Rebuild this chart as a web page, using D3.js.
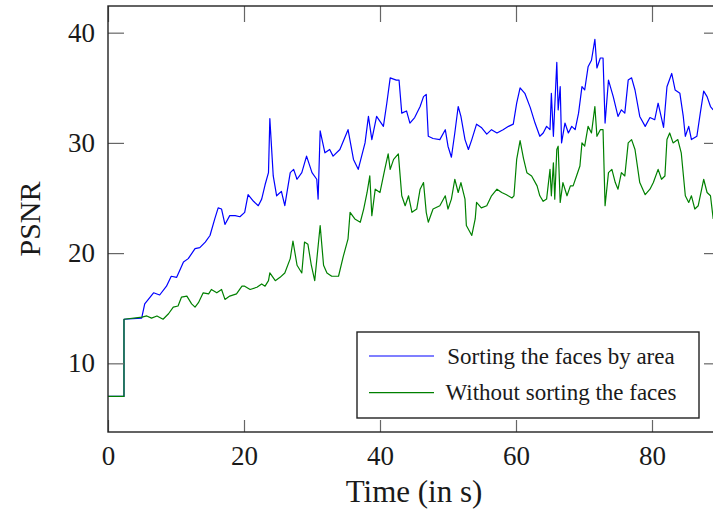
<!DOCTYPE html>
<html>
<head>
<meta charset="utf-8">
<script src="https://cdn.jsdelivr.net/npm/d3@7"></script>
<style>
  body { margin: 0; background: #fff; }
  svg { display: block; font-family: "Liberation Serif", "DejaVu Serif", serif; }
</style>
</head>
<body>
<svg width="713" height="514"></svg>
<script>
// dati nolasīti no attēla
const sortedTime = [0, 2.35, 2.35, 4.95, 5.4, 6.7, 7.6, 8.6, 9.3, 10.1, 11.1, 11.8, 12.8, 13.5, 14.3, 15.0, 15.7, 16.2, 16.7, 17.2, 17.9, 18.7, 19.4, 20.1, 20.6, 21.4, 22.1, 22.6, 23.1, 23.6, 23.8, 24.3, 24.8, 25.5, 26.0, 26.8, 27.3, 27.8, 28.5, 29.2, 30.0, 30.7, 30.9, 31.2, 31.9, 32.6, 33.1, 34.1, 35.3, 36.1, 36.8, 37.8, 38.3, 38.8, 39.5, 40.5, 41.0, 41.5, 42.4, 42.8, 43.2, 43.9, 44.4, 45.1, 45.9, 46.4, 46.8, 47.1, 47.8, 48.8, 49.6, 50.0, 50.5, 51.0, 51.5, 51.9, 52.5, 53.0, 53.5, 54.2, 54.9, 55.7, 56.4, 57.2, 58.1, 58.9, 59.6, 60.1, 60.6, 61.3, 62.1, 62.8, 63.5, 64.0, 64.5, 65.0, 65.2, 65.5, 65.7, 66.0, 66.2, 66.5, 66.7, 67.2, 67.7, 68.2, 68.7, 69.2, 69.7, 70.1, 70.6, 71.1, 71.6, 71.9, 72.4, 72.8, 73.1, 73.6, 74.3, 75.0, 75.5, 76.0, 76.5, 77.0, 77.5, 78.2, 79.0, 79.7, 80.4, 80.9, 81.7, 82.2, 82.9, 83.4, 84.1, 84.6, 84.9, 85.4, 85.8, 86.6, 87.1, 87.6, 88.1, 88.6, 89.0];
const sortedPsnr = [7, 7, 14, 14.1, 15.4, 16.4, 16.2, 17.0, 17.9, 17.8, 19.2, 19.5, 20.4, 20.5, 21.0, 21.6, 23.1, 24.1, 24.0, 22.6, 23.4, 23.4, 23.3, 23.7, 25.3, 24.7, 24.3, 24.9, 26.2, 27.3, 32.2, 27.0, 25.2, 25.6, 24.3, 27.3, 27.6, 26.7, 27.3, 28.8, 27.3, 26.7, 24.9, 31.1, 29.1, 29.4, 28.8, 29.4, 31.2, 28.5, 27.6, 30.0, 32.4, 30.3, 32.4, 31.5, 33.6, 35.9, 35.7, 35.7, 32.7, 32.9, 31.8, 32.3, 33.3, 34.2, 34.4, 30.6, 30.4, 30.3, 31.2, 29.7, 28.7, 30.9, 33.3, 32.4, 30.3, 29.4, 30.3, 31.7, 31.4, 30.8, 31.2, 30.9, 31.2, 31.5, 31.7, 33.6, 35.0, 34.5, 33.2, 31.8, 30.6, 30.9, 31.5, 31.2, 34.5, 30.6, 33.3, 37.3, 33.0, 35.1, 30.0, 31.8, 30.9, 31.5, 31.2, 32.7, 35.1, 34.8, 36.9, 37.5, 39.4, 36.8, 37.7, 37.7, 31.8, 35.7, 34.2, 32.4, 33.0, 32.7, 35.7, 35.9, 34.8, 32.4, 31.5, 32.3, 32.1, 33.6, 31.4, 35.1, 36.3, 34.8, 34.5, 32.4, 30.6, 31.5, 30.3, 30.6, 32.7, 34.7, 34.2, 33.3, 33.0];

const unsortedTime = [0, 2.35, 2.35, 5.0, 5.7, 6.4, 7.2, 8.1, 8.9, 9.6, 10.3, 10.8, 11.6, 12.3, 12.8, 13.3, 14.0, 14.8, 15.2, 16.0, 16.7, 17.2, 17.9, 18.9, 19.7, 20.1, 20.9, 21.9, 22.6, 23.1, 23.6, 23.8, 24.6, 25.3, 26.0, 26.8, 27.2, 27.8, 28.5, 28.9, 29.4, 29.9, 30.4, 31.2, 31.7, 32.2, 32.9, 33.9, 34.6, 35.3, 35.6, 36.3, 37.1, 37.6, 38.1, 38.5, 38.8, 39.3, 40.0, 40.7, 41.2, 41.5, 42.0, 42.7, 43.2, 43.7, 44.2, 44.7, 45.4, 45.9, 46.4, 46.8, 47.1, 47.8, 48.8, 49.6, 50.0, 50.5, 51.0, 51.5, 51.9, 52.5, 52.7, 53.5, 54.0, 54.2, 54.9, 55.7, 56.4, 57.2, 57.9, 58.6, 59.4, 59.7, 60.1, 60.6, 61.1, 61.6, 62.3, 63.1, 63.5, 64.0, 64.5, 65.0, 65.2, 65.5, 65.7, 66.0, 66.2, 66.5, 66.9, 67.5, 68.0, 68.4, 68.9, 69.4, 69.7, 70.1, 70.6, 71.1, 71.6, 71.9, 72.4, 72.8, 73.1, 73.6, 74.1, 74.6, 75.0, 75.5, 76.0, 76.5, 77.0, 77.5, 78.2, 79.0, 79.7, 80.2, 80.9, 81.4, 81.9, 82.2, 82.6, 83.1, 83.8, 84.3, 84.9, 85.4, 85.8, 86.3, 86.8, 87.6, 88.1, 88.6, 89.0];
const unsortedPsnr = [7, 7, 14, 14.2, 14.3, 14.1, 14.3, 14.0, 14.5, 15.1, 15.2, 16.0, 16.1, 15.4, 15.1, 15.5, 16.4, 16.3, 16.7, 16.4, 16.7, 15.8, 16.1, 16.3, 17.0, 17.0, 16.7, 16.9, 17.2, 17.0, 17.5, 18.2, 17.5, 17.8, 18.2, 19.5, 21.1, 18.9, 18.2, 21.0, 20.8, 18.9, 17.5, 22.5, 18.9, 18.2, 17.9, 17.9, 19.7, 21.3, 23.7, 23.1, 22.8, 24.0, 25.5, 27.0, 23.4, 25.8, 25.5, 27.6, 29.0, 27.6, 28.5, 29.0, 25.2, 24.3, 25.2, 23.7, 24.0, 25.8, 26.4, 23.7, 22.8, 24.0, 24.3, 25.2, 24.0, 24.9, 26.7, 25.5, 26.4, 24.9, 22.5, 21.6, 23.1, 24.6, 24.1, 24.3, 25.2, 25.8, 25.5, 25.3, 25.0, 25.2, 28.5, 30.2, 28.6, 27.3, 27.0, 26.1, 25.2, 24.7, 24.9, 27.6, 25.2, 28.2, 24.9, 29.4, 29.7, 24.6, 26.4, 25.2, 26.1, 26.1, 27.0, 27.9, 30.0, 29.7, 31.5, 30.9, 33.3, 30.6, 31.2, 31.2, 24.3, 27.3, 27.6, 26.4, 25.8, 27.3, 27.0, 30.0, 30.3, 29.4, 26.4, 25.3, 25.8, 26.4, 27.6, 26.7, 27.0, 30.3, 30.9, 30.0, 30.3, 29.1, 25.2, 24.6, 25.2, 24.0, 24.3, 26.7, 25.5, 25.2, 23.1];

const xTicks = [0, 20, 40, 60, 80];
const yTicks = [10, 20, 30, 40];
const seriesNames = ["Sorting the faces by area", "Without sorting the faces"];
const seriesColors = ["#0000ff", "#008000"];

const svg = d3.select("svg");
const plotLeft = 108, plotRight = 720, plotTop = 6, plotBottom = 432;

const x = d3.scaleLinear().domain([0, 90]).range([plotLeft, plotRight]);
const y = d3.scaleLinear().domain([3.77, 42.42]).range([plotBottom, plotTop]);

// līnijas (zaļā zīmēta pēdējā, virs zilās)
const series = [
  d3.zip(sortedTime, sortedPsnr),
  d3.zip(unsortedTime, unsortedPsnr),
];
const line = d3.line().x((d) => x(d[0])).y((d) => y(d[1]));

svg.append("defs").append("clipPath").attr("id", "clip")
  .append("rect").attr("x", plotLeft).attr("y", plotTop)
  .attr("width", plotRight - plotLeft).attr("height", plotBottom - plotTop);

svg.append("g").attr("clip-path", "url(#clip)")
  .selectAll("path")
  .data(series)
  .enter()
  .append("path")
  .attr("d", line)
  .attr("fill", "none")
  .attr("stroke", (d, i) => seriesColors[i])
  .attr("stroke-width", 1.2)
  .attr("stroke-linejoin", "round");

// asis ar iekšējām atzīmēm
const tickColor = "#666";
const axB = svg.append("g").attr("transform", `translate(0,${plotBottom})`)
  .call(d3.axisBottom(x).tickValues(xTicks).tickSize(-12).tickPadding(14));
const axL = svg.append("g").attr("transform", `translate(${plotLeft},0)`)
  .call(d3.axisLeft(y).tickValues(yTicks).tickSize(-16).tickPadding(13));
const axT = svg.append("g").attr("transform", `translate(0,${plotTop})`)
  .call(d3.axisTop(x).tickValues(xTicks).tickSize(-16).tickFormat(""));
const axR = svg.append("g").attr("transform", `translate(${plotRight},0)`)
  .call(d3.axisRight(y).tickValues(yTicks).tickSize(-16).tickFormat(""));

[axB, axL, axT, axR].forEach((g) => {
  g.select(".domain").remove();
  g.selectAll(".tick line").attr("stroke", tickColor).attr("stroke-width", 1.2);
  g.selectAll(".tick text")
    .attr("fill", "#1a1a1a")
    .style("font-family", '"Liberation Serif", serif')
    .style("font-size", "27px");
});

svg.append("rect")
  .attr("x", plotLeft).attr("y", plotTop)
  .attr("width", plotRight - plotLeft).attr("height", plotBottom - plotTop)
  .attr("fill", "none").attr("stroke", "#222").attr("stroke-width", 1.4);

// asu nosaukumi
svg.append("text")
  .attr("x", (plotLeft + plotRight) / 2).attr("y", 502)
  .attr("text-anchor", "middle")
  .attr("fill", "#1a1a1a")
  .style("font-size", "31px")
  .text("Time (in s)");

svg.append("text")
  .attr("transform", `translate(40,${(plotTop + plotBottom) / 2}) rotate(-90)`)
  .attr("text-anchor", "middle")
  .attr("fill", "#1a1a1a")
  .style("font-size", "30px")
  .text("PSNR");

// leģenda
const legend = svg.append("g");
legend.append("rect")
  .attr("x", 357).attr("y", 332).attr("width", 342).attr("height", 86)
  .attr("fill", "#fff").attr("stroke", "#222").attr("stroke-width", 1.4);

const rows = legend.selectAll(".row")
  .data(seriesNames)
  .enter()
  .append("g")
  .attr("transform", (d, i) => `translate(0,${356 + i * 36.7})`);

rows.append("line")
  .attr("x1", 369).attr("x2", 434)
  .attr("stroke", (d, i) => seriesColors[i])
  .attr("stroke-width", 1.2);

rows.append("text")
  .attr("x", 561).attr("y", 7.5)
  .attr("text-anchor", "middle")
  .attr("fill", "#1a1a1a")
  .style("font-size", "23px")
  .text((d) => d);
</script>
</body>
</html>
